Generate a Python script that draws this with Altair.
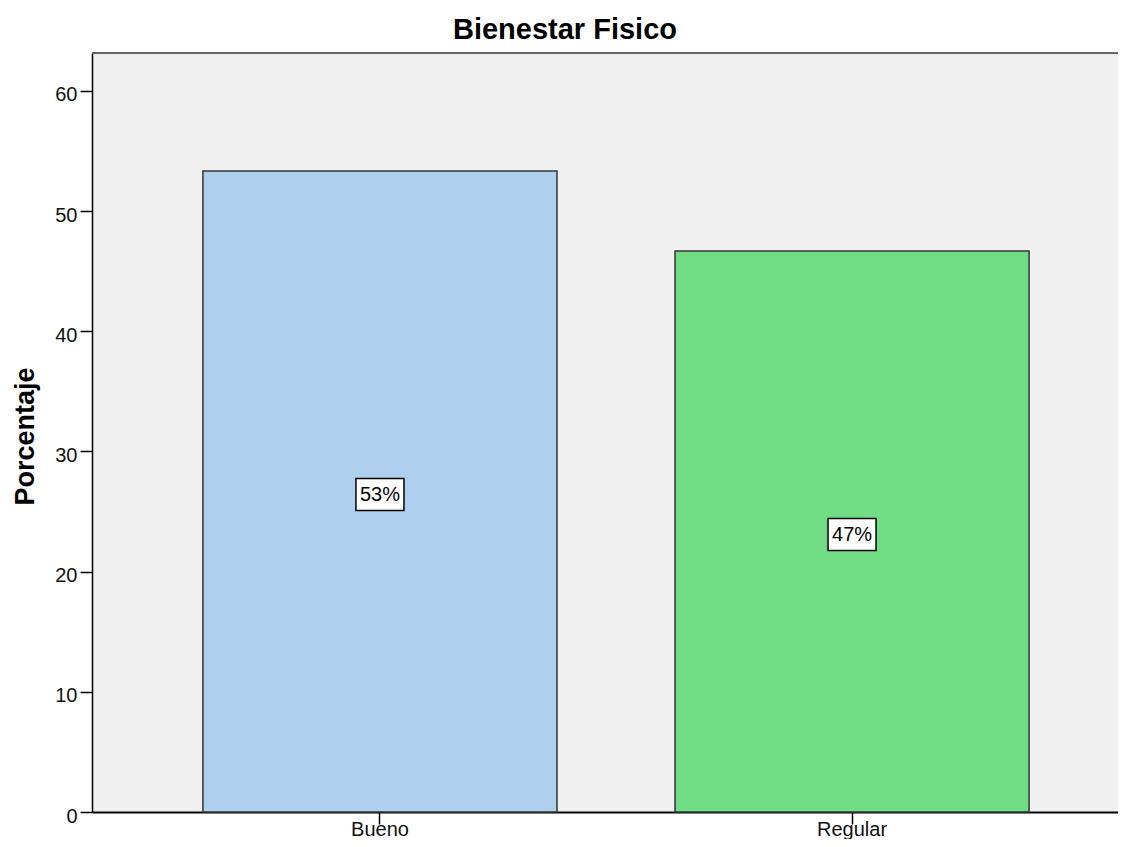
import altair as alt
import pandas as pd

categories = ["Bueno", "Regular"]
percentages = [53.33, 46.67]
labels = ["53%", "47%"]
colors = ["#aed0ee", "#70dd85"]
y_ticks = [0, 10, 20, 30, 40, 50, 60]
chart_title = "Bienestar Fisico"

df = pd.DataFrame({"cat": categories, "pct": percentages, "lab": labels})

FONT = "Liberation Sans"
W, H = 1026, 759      # visible plot area (cropped on the right like the reference)
FULL_W = 1048         # full width of the category axis

x_enc = alt.X(
    "cat:N",
    sort=categories,
    scale=alt.Scale(paddingInner=0.25, paddingOuter=0.235, range=[0, FULL_W]),
    axis=alt.Axis(
        title=None, labelAngle=0, labelFontSize=20, labelFont=FONT, labelColor="#111111",
        tickSize=12, tickColor="black", tickWidth=1.5, domainColor="black",
        domainWidth=2, labelPadding=11, labelBaseline="alphabetic", grid=False,
    ),
)
y_scale = alt.Scale(domain=[0, 63.15], nice=False, zero=True)

bars = alt.Chart(df).mark_bar(stroke="#333333", strokeWidth=1.5).encode(
    x=x_enc,
    y=alt.Y(
        "pct:Q",
        scale=y_scale,
        axis=alt.Axis(
            values=y_ticks, title="Porcentaje", titleFontSize=27, titleFontWeight="bold",
            titleFont=FONT, titleColor="black", titleX=-59, titleY=383,
            titleBaseline="alphabetic", titleAngle=270,
            labelFontSize=20, labelFont=FONT, labelColor="#111111", labelOffset=4,
            tickSize=12, tickColor="black", tickWidth=1.5, labelPadding=3,
            domainColor="black", domainWidth=1.5, grid=False,
        ),
    ),
    color=alt.Color("cat:N", scale=alt.Scale(domain=categories, range=colors), legend=None),
)

one = pd.DataFrame({"t": [chart_title]})

border = alt.Chart(one).mark_rule(color="#666666", strokeWidth=2).encode(
    x=alt.value(0), x2=alt.value(FULL_W), y=alt.value(0)
)

title = alt.Chart(one).mark_text(
    fontSize=29, fontWeight="bold", font=FONT, color="black",
    align="center", baseline="alphabetic",
).encode(x=alt.value(473), y=alt.value(-14), text="t:N")

box_path = "M-1,-0.667L1,-0.667L1,0.667L-1,0.667Z"
boxes = alt.Chart(df).transform_calculate(mid="datum.pct / 2").mark_point(
    shape=box_path, size=2304, filled=True, fill="white", stroke="black",
    strokeWidth=1.5, opacity=1, yOffset=3,
).encode(x=alt.X("cat:N", sort=categories), y=alt.Y("mid:Q", scale=y_scale))

texts = alt.Chart(df).transform_calculate(mid="datum.pct / 2").mark_text(
    fontSize=20, font=FONT, color="black", baseline="middle", align="center", yOffset=3,
).encode(x=alt.X("cat:N", sort=categories), y=alt.Y("mid:Q", scale=y_scale), text="lab:N")

chart = alt.layer(bars, border, title, boxes, texts).properties(
    width=W,
    height=H,
    autosize=alt.AutoSizeParams(type="none"),
    padding={"left": 84, "top": 45, "right": 0, "bottom": 27},
).configure_view(fill="#f0f0f0", stroke="transparent")

chart.save("out.html", embed_options={"renderer": "svg", "actions": False})
